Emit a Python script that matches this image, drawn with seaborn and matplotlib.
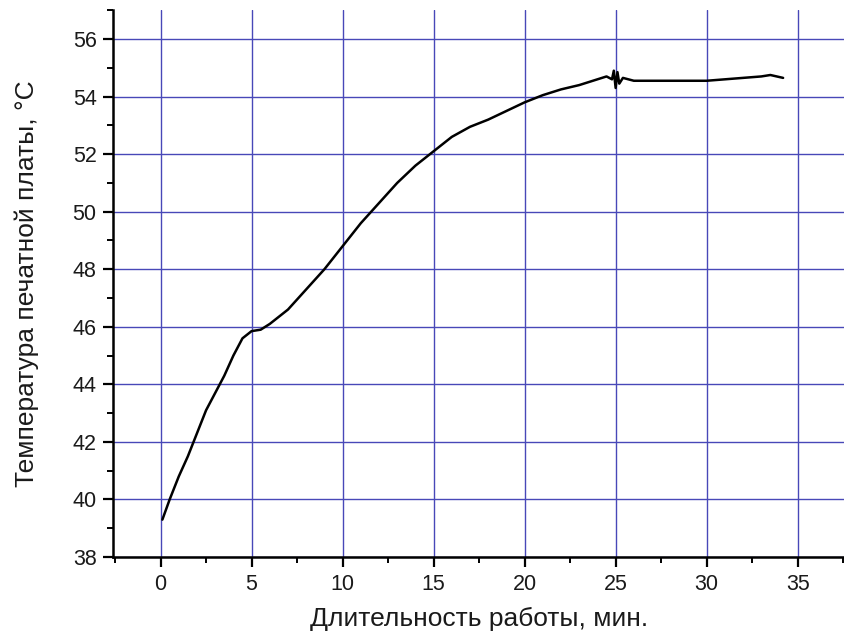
import numpy as np
import pandas as pd
import matplotlib
matplotlib.use("Agg")
import matplotlib.pyplot as plt
import seaborn as sns
from matplotlib.ticker import MultipleLocator

# Data
time_min = [0.1, 0.5, 1.0, 1.5, 2.0, 2.5, 3.0, 3.5, 4.0, 4.5, 5.0, 5.5, 6.0, 7.0,
            8.0, 9.0, 10.0, 11.0, 12.0, 13.0, 14.0, 15.0, 16.0, 17.0, 18.0, 19.0,
            20.0, 21.0, 22.0, 23.0, 24.0, 24.5, 24.8, 24.9, 25.0, 25.1, 25.2, 25.4,
            26.0, 27.0, 28.0, 29.0, 30.0, 31.0, 32.0, 33.0, 33.5, 34.2]
temp_c = [39.3, 40.0, 40.8, 41.5, 42.3, 43.1, 43.7, 44.3, 45.0, 45.6, 45.85, 45.9,
          46.1, 46.6, 47.3, 48.0, 48.8, 49.6, 50.3, 51.0, 51.6, 52.1, 52.6, 52.95,
          53.2, 53.5, 53.8, 54.05, 54.25, 54.4, 54.6, 54.7, 54.6, 54.9, 54.3, 54.85,
          54.45, 54.65, 54.55, 54.55, 54.55, 54.55, 54.55, 54.6, 54.65, 54.7, 54.75, 54.65]

x_ticks = [0, 5, 10, 15, 20, 25, 30, 35]
y_ticks = [38, 40, 42, 44, 46, 48, 50, 52, 54, 56]
x_label = "Длительность работы, мин."
y_label = "Температура печатной платы, °C"

df = pd.DataFrame({"t": time_min, "T": temp_c})

sns.set_style("white")
plt.rcParams["font.family"] = ["Liberation Sans", "DejaVu Sans"]
plt.rcParams["text.color"] = "#1a1a1a"
plt.rcParams["axes.labelcolor"] = "#1a1a1a"
plt.rcParams["xtick.labelcolor"] = "#1a1a1a"
plt.rcParams["ytick.labelcolor"] = "#1a1a1a"

fig = plt.figure(figsize=(8.45, 6.41), dpi=100)
ax = fig.add_axes([0.134, 0.131, 0.866, 0.853])

sns.lineplot(data=df, x="t", y="T", ax=ax, color="black", linewidth=1.8)

ax.set_xlim(-2.6, 37.6)
ax.set_ylim(38, 57)
ax.set_xticks(x_ticks)
ax.set_yticks(y_ticks)
ax.xaxis.set_minor_locator(MultipleLocator(2.5))
ax.yaxis.set_minor_locator(MultipleLocator(1))

ax.grid(True, which="major", color="#4848b8", linewidth=1.0)
ax.set_axisbelow(True)

for s in ["top", "right"]:
    ax.spines[s].set_visible(False)
for s in ["left", "bottom"]:
    ax.spines[s].set_color("black")
    ax.spines[s].set_linewidth(1.8)

ax.tick_params(which="major", direction="out", length=7, width=1.6, color="black",
               labelsize=15.5, pad=5, left=True, bottom=True, labelcolor="#1a1a1a")
ax.tick_params(which="minor", direction="out", length=4, width=1.4, color="black",
               left=True, bottom=True)

ax.set_xlabel(x_label, fontsize=19, labelpad=9, color="#1a1a1a")
ax.set_ylabel(y_label, fontsize=19, labelpad=24, color="#1a1a1a")

fig.savefig("out.png", dpi=100)
